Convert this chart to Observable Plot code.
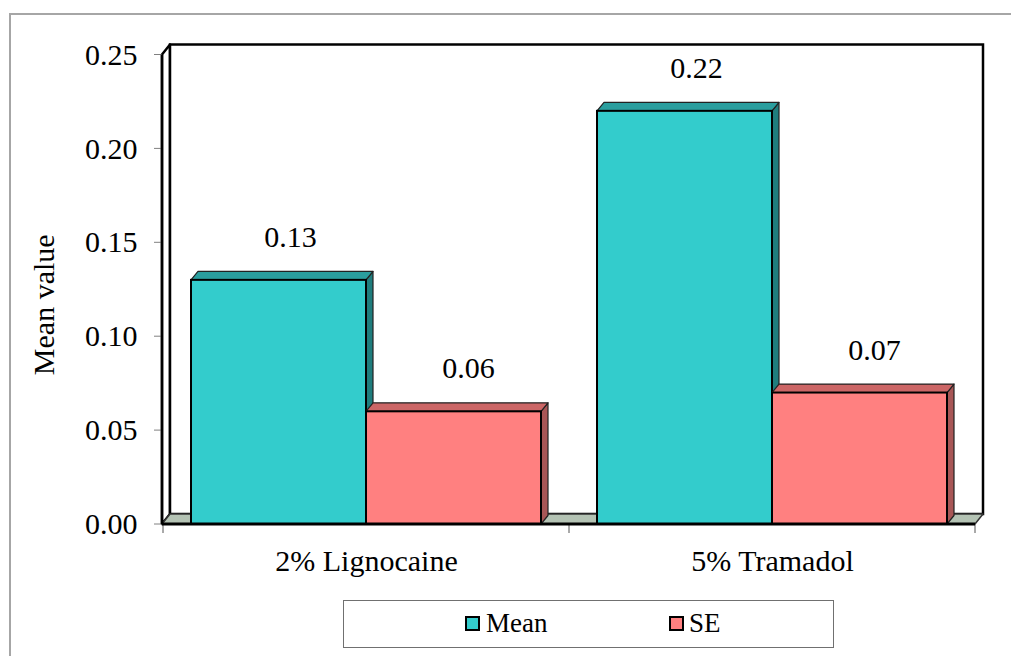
<!DOCTYPE html>
<html>
<head>
<meta charset="utf-8">
<script src="https://cdn.jsdelivr.net/npm/d3@7"></script>
<script src="https://cdn.jsdelivr.net/npm/@observablehq/plot@0.6"></script>
<style>
  html, body { margin: 0; padding: 0; background: #fff; overflow: hidden; }
  #wrap { position: relative; width: 1011px; height: 656px; overflow: hidden; font-family: 'Liberation Serif', 'Times New Roman', serif; }
  #frame { position: absolute; left: 9px; top: 13px; width: 1100px; height: 800px; border-left: 2px solid #a6a6a6; border-top: 2px solid #a6a6a6; }
  #chart { position: absolute; left: 0; top: 0; }
  #legend { position: absolute; left: 343px; top: 600px; width: 489px; height: 46px; border: 1.5px solid #707070; background: #fff; }
  .sw { position: absolute; top: 15px; width: 11px; height: 11px; border: 2.5px solid #000; }
  .lt { position: absolute; top: 7px; font-size: 27px; line-height: 30px; color: #000; }
</style>
</head>
<body>
<div id="wrap">
  <div id="frame"></div>
  <div id="chart"></div>
  <div id="legend"></div>
</div>
<script>
// ---- data ----
const categories = ["2% Lignocaine", "5% Tramadol"];
const series = ["Mean", "SE"];
const meanValues = [0.13, 0.22];
const seValues = [0.06, 0.07];
const yTicks = [0, 0.05, 0.10, 0.15, 0.20, 0.25];
const seriesColors = {
  Mean: {front: "#33CCCC", top: "#2A9E9E", side: "#1F7D7D"},
  SE:   {front: "#FF8080", top: "#CC6666", side: "#A85656"}
};

const rows = [];
categories.forEach((c, i) => {
  rows.push({category: c, series: "Mean", value: meanValues[i]});
  rows.push({category: c, series: "SE", value: seValues[i]});
});

function threeD(index, scales, values, dims) {
  const x = scales.x, y = scales.y;
  const g = d3.create("svg:g");
  const x0 = dims.marginLeft, x1 = dims.width - dims.marginRight;
  const bw = x.bandwidth ? x.bandwidth() : (x1 - x0) / categories.length;
  const yb = y(0), yt = y(yTicks[yTicks.length - 1]);
  const DX = 8, DY = -10;   // wall depth
  const BDX = 7, BDY = -8.5; // bar depth
  const pts = a => a.map(p => p.join(",")).join(" ");

  // side wall (left)
  g.append("polygon").attr("points", pts([[x0, yt], [x0 + DX, yt + DY], [x0 + DX, yb + DY], [x0, yb]]))
    .attr("fill", "#fff").attr("stroke", "#000").attr("stroke-width", 2.5).attr("stroke-linejoin", "round");
  // back wall
  g.append("rect").attr("x", x0 + DX).attr("y", yt + DY).attr("width", x1 - x0).attr("height", yb - yt)
    .attr("fill", "#fff").attr("stroke", "#000").attr("stroke-width", 2.5);
  // floor
  g.append("polygon").attr("points", pts([[x0, yb], [x0 + DX, yb + DY], [x1 + DX, yb + DY], [x1, yb]]))
    .attr("fill", "#B4C3B4").attr("stroke", "#333").attr("stroke-width", 1.5).attr("stroke-linejoin", "round");
  // y ticks
  yTicks.forEach(t => {
    g.append("line").attr("x1", x0 - 8).attr("x2", x0).attr("y1", y(t)).attr("y2", y(t))
      .attr("stroke", "#808080").attr("stroke-width", 1);
  });
  // x ticks at band boundaries
  categories.forEach(c => {
    g.append("line").attr("x1", x(c)).attr("x2", x(c)).attr("y1", yb).attr("y2", yb + 9)
      .attr("stroke", "#555").attr("stroke-width", 1);
  });
  g.append("line").attr("x1", x1).attr("x2", x1).attr("y1", yb).attr("y2", yb + 9)
    .attr("stroke", "#555").attr("stroke-width", 1);

  // bars
  const sub = d3.scaleBand(series, [0, bw]).paddingInner(0).paddingOuter(0.16);
  const sw = sub.bandwidth();
  rows.forEach(r => {
    const col = seriesColors[r.series];
    const L = x(r.category) + sub(r.series), R = L + sw;
    const T = y(r.value), B = y(0);
    g.append("polygon").attr("points", pts([[R, T], [R + BDX, T + BDY], [R + BDX, B + BDY], [R, B]]))
      .attr("fill", col.side).attr("stroke", "#222").attr("stroke-width", 1.2).attr("stroke-linejoin", "round");
    g.append("polygon").attr("points", pts([[L, T], [L + BDX, T + BDY], [R + BDX, T + BDY], [R, T]]))
      .attr("fill", col.top).attr("stroke", "#222").attr("stroke-width", 1.2).attr("stroke-linejoin", "round");
    g.append("rect").attr("x", L).attr("y", T).attr("width", sw).attr("height", B - T)
      .attr("fill", col.front).attr("stroke", "#000").attr("stroke-width", 2);
    g.append("text").attr("x", L + sw / 2 + (r.series === "Mean" ? 12 : 15)).attr("y", T - 33)
      .attr("text-anchor", "middle").attr("font-size", 30).attr("fill", "#000")
      .text(d3.format(".2f")(r.value));
  });

  // front axis lines
  g.append("line").attr("x1", x0).attr("x2", x0).attr("y1", yt).attr("y2", yb)
    .attr("stroke", "#000").attr("stroke-width", 2.5);
  g.append("line").attr("x1", x0).attr("x2", x1).attr("y1", yb).attr("y2", yb)
    .attr("stroke", "#000").attr("stroke-width", 3);
  return g.node();
}

const plot = Plot.plot({
  width: 1011,
  height: 595,
  marginLeft: 162,
  marginRight: 36,
  marginTop: 54.5,
  marginBottom: 71,
  style: {fontFamily: "'Liberation Serif', 'Times New Roman', serif", fontSize: "30px", background: "transparent", overflow: "visible", color: "#000"},
  x: {type: "band", domain: categories, padding: 0, label: null},
  y: {domain: [0, 0.25], label: null},
  marks: [
    threeD,
    Plot.axisY({ticks: yTicks, tickFormat: d3.format(".2f"), tickSize: 0, tickPadding: 25, label: null, fontSize: 30}),
    Plot.axisX({tickSize: 0, tickPadding: 25, label: null, fontSize: 30}),
    Plot.text(["Mean value"], {text: d => d, frameAnchor: "left", textAnchor: "middle", rotate: -90, dx: -118, dy: 15, fontSize: 30, fill: "#000"})
  ]
});
document.getElementById("chart").appendChild(plot);

// legend
const legend = document.getElementById("legend");
const legendPos = {Mean: [121, 142], SE: [325, 345]};
series.forEach(s => {
  const sw = document.createElement("div");
  sw.className = "sw";
  sw.style.left = legendPos[s][0] + "px";
  sw.style.background = seriesColors[s].front;
  legend.appendChild(sw);
  const t = document.createElement("div");
  t.className = "lt";
  t.style.left = legendPos[s][1] + "px";
  t.textContent = s;
  legend.appendChild(t);
});
</script>
</body>
</html>
